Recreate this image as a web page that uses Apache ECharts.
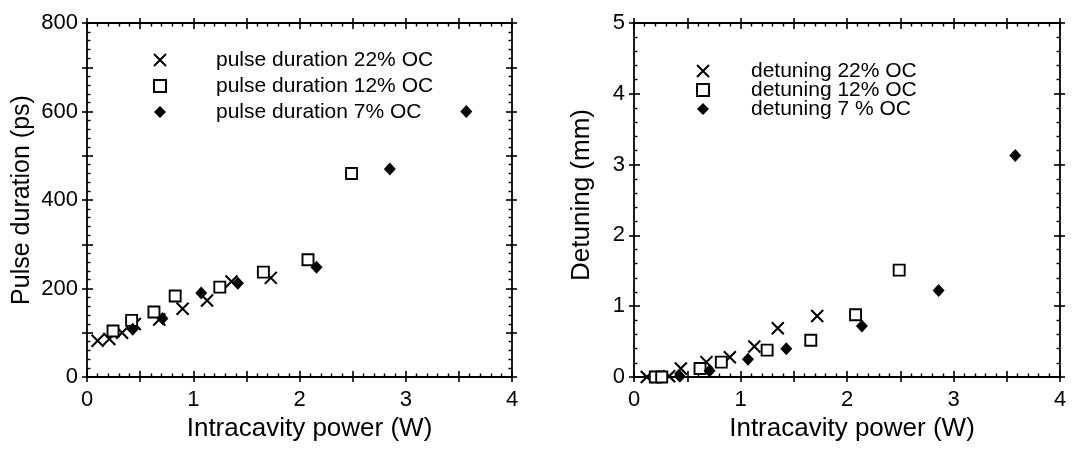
<!DOCTYPE html>
<html>
<head>
<meta charset="utf-8">
<title>Pulse duration and detuning vs intracavity power</title>
<script src="https://cdn.jsdelivr.net/npm/echarts@6/dist/echarts.min.js"></script>
<style>
  html, body { margin: 0; padding: 0; background: #fff; }
  #chart { width: 1072px; height: 449px; }
</style>
</head>
<body>
<div id="chart"></div>
<script>
// ---- Pulse duration (ps) vs intracavity power (W) ----
const pulseX22 = [0.10, 0.21, 0.33, 0.45, 0.68, 0.90, 1.13, 1.36, 1.73];
const pulseY22 = [82, 86, 100, 120, 130, 154, 173, 216, 224];
const pulseX12 = [0.245, 0.42, 0.63, 0.83, 1.25, 1.66, 2.08, 2.49];
const pulseY12 = [104, 128, 147, 183, 203, 237, 265, 460];
const pulseX7 = [0.43, 0.71, 1.075, 1.42, 2.16, 2.85, 3.57];
const pulseY7 = [108, 132, 190, 212, 248, 470, 600];

// ---- Detuning (mm) vs intracavity power (W) ----
const detX22 = [0.12, 0.33, 0.44, 0.68, 0.90, 1.13, 1.35, 1.72];
const detY22 = [0.0, 0.01, 0.12, 0.21, 0.28, 0.43, 0.69, 0.86];
const detX12 = [0.20, 0.26, 0.62, 0.82, 1.25, 1.66, 2.08, 2.49];
const detY12 = [0.0, 0.0, 0.12, 0.21, 0.38, 0.52, 0.88, 1.51];
const detX7 = [0.43, 0.71, 1.07, 1.43, 2.14, 2.86, 3.58];
const detY7 = [0.01, 0.09, 0.25, 0.40, 0.72, 1.22, 3.13];

// series names
const pulseNames = ['pulse duration 22% OC', 'pulse duration 12% OC', 'pulse duration 7% OC'];
const detNames = ['detuning 22% OC', 'detuning 12% OC', 'detuning 7 % OC'];

// axis text
const xTitle = 'Intracavity power (W)';
const pulseTitle = 'Pulse duration (ps)';
const detTitle = 'Detuning (mm)';

const FONT = '"Liberation Sans", Arial, Helvetica, sans-serif';
const INK = '#000';
const CROSS = 'path://M0,0L12,12M12,0L0,12';

const zip = (xs, ys) => xs.map((x, i) => [x, ys[i]]);

// One side of a framed box: an axis with inward ticks (plus minor ticks) and a
// twin with outward major ticks, so the major ticks cross the frame line.
function framePair(kind, grid, pos, scale, withLabels, title) {
  const base = {
    type: 'value', gridIndex: grid, position: pos,
    min: scale.min, max: scale.max, interval: scale.interval,
    splitLine: { show: false }
  };
  const inner = Object.assign({}, base, {
    axisLine: { show: true, onZero: false, lineStyle: { color: INK, width: 1.8 } },
    axisTick: { show: true, inside: true, length: 6, lineStyle: { color: INK, width: 1.6 } },
    minorTick: { show: true, splitNumber: 5, length: 3.5, lineStyle: { color: INK, width: 1.4 } },
    axisLabel: withLabels ? {
      show: true, margin: kind === 'x' ? 12 : 9,
      color: INK, fontFamily: FONT, fontSize: 22,
      formatter: v => {
        const k = v / scale.labelStep;
        return Math.abs(k - Math.round(k)) < 1e-6 ? String(Math.round(v * 100) / 100) : '';
      }
    } : { show: false }
  });
  if (title) {
    Object.assign(inner, {
      name: title.text, nameLocation: 'middle', nameGap: title.gap,
      nameTextStyle: { color: INK, fontFamily: FONT, fontSize: title.size, padding: title.pad }
    });
  }
  const outer = Object.assign({}, base, {
    axisLine: { show: false, onZero: false },
    axisTick: { show: true, inside: false, length: 5, lineStyle: { color: INK, width: 1.6 } },
    minorTick: { show: false },
    axisLabel: { show: false }
  });
  return [inner, outer];
}

function frameAxes(grid, xs, ys, xName, yName) {
  return {
    x: [].concat(
      framePair('x', grid, 'bottom', xs, true, xName),
      framePair('x', grid, 'top', xs, false)
    ),
    y: [].concat(
      framePair('y', grid, 'left', ys, true, yName),
      framePair('y', grid, 'right', ys, false)
    )
  };
}

const xScale = { min: 0, max: 4, interval: 0.5, labelStep: 1 };
const pulseScale = { min: 0, max: 800, interval: 100, labelStep: 200 };
const detScale = { min: 0, max: 5, interval: 1, labelStep: 1 };

const leftAxes = frameAxes(0, xScale, pulseScale,
  { text: xTitle, gap: 39, size: 26, pad: [0, 0, 0, 20] },
  { text: pulseTitle, gap: 52, size: 25, pad: 0 });
const rightAxes = frameAxes(1, xScale, detScale,
  { text: xTitle, gap: 39, size: 26, pad: [0, 0, 0, 10] },
  { text: detTitle, gap: 39, size: 26, pad: [0, 0, 0, 10] });

const styles = [
  { symbol: CROSS, symbolSize: 12, itemStyle: { color: 'transparent', borderColor: INK, borderWidth: 2.1, opacity: 1 } },
  { symbol: 'rect', symbolSize: 11, itemStyle: { color: '#fff', borderColor: INK, borderWidth: 1.9, opacity: 1 } },
  { symbol: 'diamond', symbolSize: [12, 13], itemStyle: { color: INK, opacity: 1 } }
];

function scatter(name, data, styleIdx, axisIdx) {
  return Object.assign({
    type: 'scatter', name: name, data: data,
    xAxisIndex: axisIdx, yAxisIndex: axisIdx,
    emphasis: { disabled: true }, animation: false
  }, styles[styleIdx]);
}

function legendData(names) {
  return names.map((n, i) => ({ name: n, icon: styles[i].symbol }));
}

const option = {
  backgroundColor: '#fff',
  animation: false,
  grid: [
    { left: 87, top: 23, width: 425, height: 354, containLabel: false },
    { left: 634, top: 23, width: 426, height: 354, containLabel: false }
  ],
  xAxis: leftAxes.x.concat(rightAxes.x),
  yAxis: leftAxes.y.concat(rightAxes.y),
  legend: [
    {
      orient: 'vertical', left: 153, top: 49.5, padding: 0,
      itemWidth: 12, itemHeight: 12, itemGap: 5,
      selectedMode: false,
      textStyle: { color: INK, fontFamily: FONT, fontSize: 21, lineHeight: 21, padding: [0, 0, 0, 45] },
      data: legendData(pulseNames)
    },
    {
      orient: 'vertical', left: 696, top: 60.5, padding: 0,
      itemWidth: 12, itemHeight: 12, itemGap: -2,
      selectedMode: false,
      textStyle: { color: INK, fontFamily: FONT, fontSize: 21, lineHeight: 19, padding: [0, 0, 0, 37] },
      data: legendData(detNames)
    }
  ],
  series: [
    scatter(pulseNames[0], zip(pulseX22, pulseY22), 0, 0),
    scatter(pulseNames[1], zip(pulseX12, pulseY12), 1, 0),
    scatter(pulseNames[2], zip(pulseX7, pulseY7), 2, 0),
    scatter(detNames[0], zip(detX22, detY22), 0, 4),
    scatter(detNames[1], zip(detX12, detY12), 1, 4),
    scatter(detNames[2], zip(detX7, detY7), 2, 4)
  ]
};

const chart = echarts.init(document.getElementById('chart'), null, { renderer: 'canvas' });
chart.setOption(option);
</script>
</body>
</html>
